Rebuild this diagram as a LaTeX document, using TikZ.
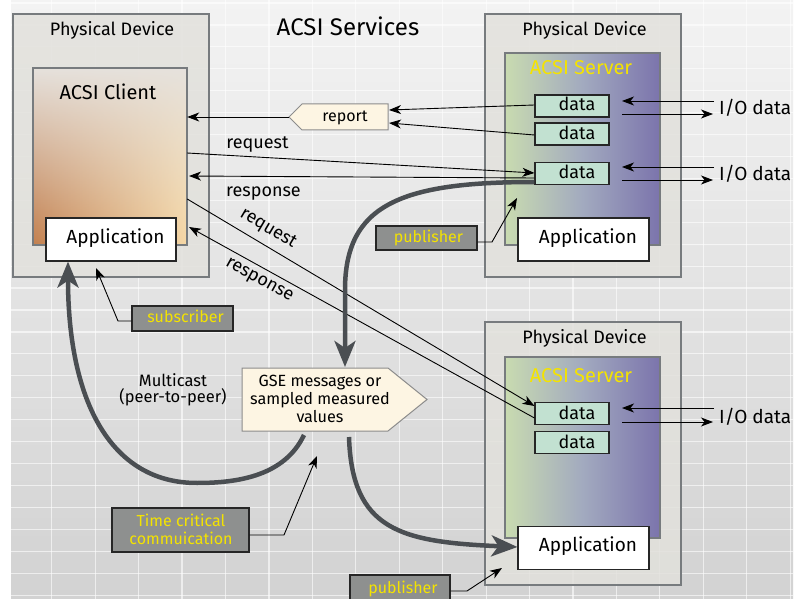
\documentclass[tikz,border=0pt]{standalone}
\usepackage{fontspec}
\setmainfont{Fira Sans}
\usetikzlibrary{arrows.meta,fadings}

\definecolor{bgtop}{HTML}{F3F3F3}
\definecolor{bgbot}{HTML}{D2D2D2}
\definecolor{pdfill}{HTML}{E2E1DC}
\definecolor{pdline}{HTML}{777B7E}
\definecolor{clientL}{HTML}{C3804F}
\definecolor{clientR}{HTML}{F6D8A6}
\definecolor{clientTop}{HTML}{E6E2DD}
\definecolor{srvL}{HTML}{C9DBB0}
\definecolor{srvM}{HTML}{A2AABF}
\definecolor{srvR}{HTML}{7B74AC}
\definecolor{datafill}{HTML}{C2E1D1}
\definecolor{msgfill}{HTML}{FDF5E3}
\definecolor{msgline}{HTML}{8C8C8C}
\definecolor{tagfill}{HTML}{8E908F}
\definecolor{tagtext}{HTML}{F4E300}
\definecolor{flow}{HTML}{4A4E52}

\begin{document}
\begin{tikzpicture}[x=1pt,y=-1pt,
  txt/.style={inner sep=0pt,anchor=base,font=\fontsize{#1}{#1}\selectfont},
  txt/.default=18,
  pdev/.style={draw=pdline,line width=2pt,fill=pdfill,fill opacity=0.85,
    inner sep=0pt,minimum width=196pt,minimum height=263pt},
  srv/.style={draw=pdline,line width=2pt,left color=srvL,right color=srvR,
    middle color=srvM,inner sep=0pt},
  datab/.style={draw=black!85,line width=1.1pt,fill=datafill,inner sep=0pt,
    minimum width=74pt,minimum height=22pt},
  appb/.style={draw=black!85,line width=1.1pt,fill=white,inner sep=0pt,
    minimum width=131pt,minimum height=43pt},
  tagb/.style={draw=black!85,line width=1.1pt,fill=tagfill,inner sep=0pt},
  tagt/.style={txt=16,text=tagtext},
  msg/.style={draw=msgline,line width=1pt,fill=msgfill},
  thin/.style={draw=black,line width=0.9pt,-{Stealth[length=12pt,width=9pt,inset=3.5pt]}},
  lead/.style={draw=black,line width=0.9pt,-{Stealth[length=12pt,width=9pt,inset=3.5pt]}},
  flowarrow/.style={draw=flow,line width=4.5pt,
    -{Stealth[length=26pt,width=21pt,inset=7pt]}}]

\useasboundingbox (0,0) rectangle (804,599);

% backdrop with a faint grid
\fill[white] (0,0) rectangle (804,599);
\shade[top color=bgtop,bottom color=bgbot] (11,0) rectangle (793,599);
\begin{scope}
\clip (11,0) rectangle (793,599);
\foreach \k in {0,...,17}
  \draw[white,line width=1.2pt,opacity=0.6] (51.7+43.44*\k,0) -- (51.7+43.44*\k,599);
\foreach \k in {0,...,27}
  \draw[white,line width=1.2pt,opacity=0.6] (11,3+21.93*\k) -- (793,3+21.93*\k);
\end{scope}

\node[txt=24] (title) at (348,35.7) {ACSI Services};

% ---------- client device ----------
\node[pdev] (pd1) at (110.5,145.5) {};
\node[txt] (pd1t) at (112,36) {Physical Device};
\node[inner sep=0pt,minimum width=154pt,minimum height=177pt] (client) at (110,156.5) {};
\shade[left color=clientL,right color=clientR] (client.north west) rectangle (client.south east);
\fill[clientTop,path fading=south] (client.north west) rectangle (client.south east);
\draw[pdline,line width=2pt] (client.north west) rectangle (client.south east);
\node[txt=20] (clientt) at (108,99.3) {ACSI Client};
\node[appb,minimum width=130pt] (app1) at (111,239.5) {};
\node[txt=19] at (115.5,243.3) {Application};

% ---------- upper server device ----------
\node[pdev] (pd2) at (583,145.5) {};
\node[txt] (pd2t) at (584.5,36) {Physical Device};
\node[srv,minimum width=155pt,minimum height=192pt] (srv1) at (582.5,149) {};
\node[txt=20,text=tagtext] at (581,75) {ACSI Server};
\node[datab] (d1) at (572,106) {};
\node[txt] at (577,111) {data};
\node[datab] (d2) at (572,134) {};
\node[txt] at (577,140) {data};
\node[datab] (d3) at (572,173.5) {};
\node[txt] at (577,178.3) {data};
\node[appb] (app2) at (583.5,239.5) {};
\node[txt=19] at (588,243.3) {Application};

% ---------- lower server device ----------
\node[pdev] (pd3) at (583,453.5) {};
\node[txt] (pd3t) at (584.5,343.3) {Physical Device};
\node[srv,minimum width=155pt,minimum height=181pt] (srv2) at (582.5,447.5) {};
\node[txt=20,text=tagtext] at (581,382.7) {ACSI Server};
\node[datab] (d4) at (572,413.5) {};
\node[txt] at (577,419) {data};
\node[datab] (d5) at (572,442.5) {};
\node[txt] at (577,448.3) {data};
\node[appb] (app3) at (583.5,548) {};
\node[txt=19] at (588,551.7) {Application};

% ---------- I/O data ----------
\node[txt=19,anchor=base west] (io1) at (719,115) {I/O data};
\node[txt=19,anchor=base west] (io2) at (719,181) {I/O data};
\node[txt=19,anchor=base west] (io3) at (719,423.3) {I/O data};
\coordinate (io1in) at (714,101);  \coordinate (d1in) at (622,101);
\coordinate (d1out) at (622,114);  \coordinate (io1out) at (713,114);
\coordinate (io2in) at (714,167);  \coordinate (d3in) at (622,167);
\coordinate (d3out) at (622,180);  \coordinate (io2out) at (713,180);
\coordinate (io3in) at (714,408);  \coordinate (d4in) at (622,408);
\coordinate (d4out) at (622,422);  \coordinate (io3out) at (713,422);
\draw[thin] (io1in) -- (d1in);
\draw[thin] (d1out) -- (io1out);
\draw[thin] (io2in) -- (d3in);
\draw[thin] (d3out) -- (io2out);
\draw[thin] (io3in) -- (d4in);
\draw[thin] (d4out) -- (io3out);

% ---------- report ----------
\draw[msg] (289,117) -- (302,104) -- (388,104) -- (388,130) -- (302,130) -- cycle;
\node[txt=16] (report) at (345,122) {report};
\coordinate (repA) at (389,110);
\coordinate (repB) at (389,123);
\coordinate (repTip) at (289,117);
\draw[thin] (d1.west |- 0,105) -- (repA);
\draw[thin] (d2.west |- 0,135) -- (repB);
\draw[thin] (repTip) -- (client.east |- 0,117);

% ---------- request / response ----------
\draw[thin] (client.east |- 0,153) -- (d3.west |- 0,173);
\draw[thin] (d3.west |- 0,178) -- (189,176);
\node[txt] at (257.5,149) {request};
\node[txt] at (263.5,196.7) {response};
\draw[thin] (client.east |- 0,199) -- (d4.north west |- 0,406);
\draw[thin] (d4.west |- 0,418) -- (189,227);
\node[txt,anchor=center,rotate=-30.7] at (268,229) {request};
\node[txt,anchor=center,rotate=-29] at (259,281) {response};

% ---------- GSE ----------
\draw[msg] (242,368) -- (388,368) -- (427,399.5) -- (388,431) -- (242,431) -- cycle;
\node[txt=16.2] (gse) at (320,386.7) {GSE messages or};
\node[txt=16.2] at (320,404.3) {sampled measured};
\node[txt=16.2] at (320,422) {values};
\coordinate (gseTop) at (345,367);
\coordinate (gseL) at (304,435);
\coordinate (gseR) at (349,437);

\node[txt=16.5] at (173,386) {Multicast};
\node[txt=16.5] at (173,402) {(peer-to-peer)};

% ---------- multicast flows ----------
\draw[flowarrow] (d3.west |- 0,182) .. controls (400,182) and (345,205) .. (345,290) -- (gseTop);
\draw[flowarrow] (gseL) .. controls (285,475) and (240,483) .. (197,483)
   .. controls (110,483) and (68,400) .. (app1.south west -| 68,0);
\draw[flowarrow] (gseR) .. controls (352,530) and (400,542) .. (app3.west |- 0,547);

% ---------- role tags ----------
\node[tagb,minimum width=101pt,minimum height=24pt] (pub1) at (426.5,238) {};
\node[tagt] at (428.5,242.7) {publisher};
\draw[lead] (pub1.east |- 0,242) -- (492,242) -- (517,198);
\node[tagb,minimum width=101pt,minimum height=25pt] (sub) at (182.5,318.5) {};
\node[tagt] at (185.5,322.7) {subscriber};
\draw[lead] (sub.west |- 0,321) -- (118,321) -- (96,268);
\node[tagb,minimum width=137pt,minimum height=44pt] (tc) at (180.5,530) {};
\node[tagt] at (181,526.7) {Time critical};
\node[tagt] at (181,544.3) {commuication};
\draw[lead] (tc.east |- 0,535) -- (284,535) -- (317,456);
\node[tagb,minimum width=100pt,minimum height=26pt] (pub2) at (400,588) {};
\node[tagt] at (403,593) {publisher};
\draw[lead] (pub2.east |- 0,591) -- (467,591) -- (502,568);

\end{tikzpicture}
\end{document}
